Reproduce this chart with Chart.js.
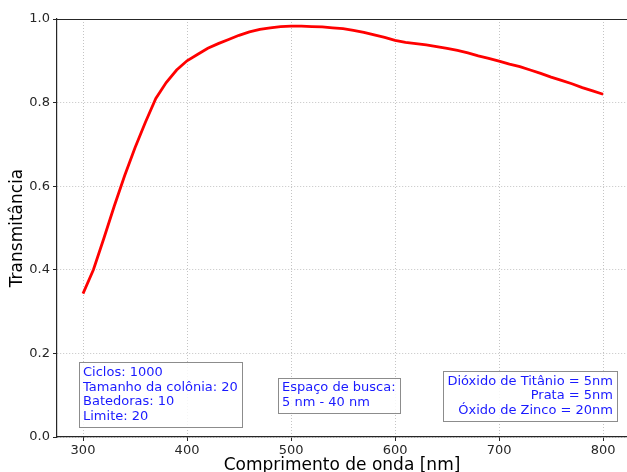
<!DOCTYPE html>
<html>
<head>
<meta charset="utf-8">
<script src="https://cdn.jsdelivr.net/npm/chart.js@4"></script>
<style>
  html, body { margin: 0; padding: 0; background: #fff; }
  #wrap { width: 627px; height: 472px; }
</style>
</head>
<body>
<div id="wrap"><canvas id="myChart" width="627" height="472"></canvas></div>
<script>
// wavelength (nm) and transmittance
const wavelengths = [300, 310, 320, 330, 340, 350, 360, 370, 380, 390,
  400, 410, 420, 430, 440, 450, 460, 470, 480, 490,
  500, 510, 520, 530, 540, 550, 560, 570, 580, 590,
  600, 610, 620, 630, 640, 650, 660, 670, 680, 690,
  700, 710, 720, 730, 740, 750, 760, 770, 780, 790, 800];
const transmittance = [0.343, 0.400, 0.475, 0.552, 0.625, 0.692, 0.753, 0.810, 0.848, 0.878,
  0.900, 0.915, 0.930, 0.941, 0.951, 0.961, 0.969, 0.975, 0.979, 0.982,
  0.983, 0.983, 0.982, 0.981, 0.979, 0.977, 0.973, 0.968, 0.962, 0.956,
  0.949, 0.944, 0.941, 0.938, 0.934, 0.930, 0.925, 0.919, 0.912, 0.906,
  0.899, 0.892, 0.886, 0.878, 0.870, 0.861, 0.853, 0.845, 0.836, 0.828, 0.820];
const xTicks = [300, 400, 500, 600, 700, 800];

const infoLeft = ['Ciclos: 1000', 'Tamanho da colônia: 20', 'Batedoras: 10', 'Limite: 20'];
const infoMid = ['Espaço de busca:', '5 nm - 40 nm'];
const infoRight = ['Dióxido de Titânio = 5nm', 'Prata = 5nm', 'Óxido de Zinco = 20nm'];

const points = wavelengths.map((w, i) => ({x: w, y: transmittance[i]}));

const FONT = 'DejaVu Sans';
const txtColor = '#262626';

// text boxes + top spine
const boxesPlugin = {
  id: 'boxes',
  afterDraw(chart) {
    const ctx = chart.ctx;
    const ca = chart.chartArea;
    ctx.save();
    ctx.strokeStyle = '#262626';
    ctx.lineWidth = 1;
    ctx.beginPath();
    ctx.moveTo(ca.left, ca.top + 0.5);
    ctx.lineTo(ca.right, ca.top + 0.5);
    ctx.stroke();

    ctx.font = '13px "' + FONT + '"';
    ctx.textBaseline = 'middle';
    const lh = 14.7, px = 4, py = 3;
    const boxes = [
      {lines: infoLeft, align: 'left', x: ca.left + 22, bottom: ca.bottom - 10},
      {lines: infoMid, align: 'left', x: ca.left + 221, bottom: ca.bottom - 24},
      {lines: infoRight, align: 'right', x: ca.left + 560, bottom: ca.bottom - 16}
    ];
    boxes.forEach(b => {
      const w = Math.max(...b.lines.map(l => ctx.measureText(l).width)) + 2 * px;
      const h = b.lines.length * lh + 2 * py;
      const left = b.align === 'left' ? b.x : b.x - w;
      const top = b.bottom - h;
      ctx.fillStyle = 'rgba(255,255,255,0.85)';
      ctx.fillRect(left, top, w, h);
      ctx.strokeStyle = '#8c8c8c';
      ctx.strokeRect(Math.round(left) + 0.5, Math.round(top) + 0.5, Math.round(w), Math.round(h));
      ctx.fillStyle = '#1a1aff';
      ctx.textAlign = b.align;
      b.lines.forEach((l, i) => {
        const tx = b.align === 'left' ? left + px : left + w - px;
        ctx.fillText(l, tx, top + py + lh * (i + 0.5));
      });
    });
    ctx.restore();
  }
};

const gridOpts = {
  color: '#c4c4c4', lineWidth: 1,
  tickColor: txtColor, tickBorderDash: [], tickLength: 4, tickWidth: 1
};
const borderOpts = {color: txtColor, width: 1.2, dash: [1, 2]};

const config = {
  type: 'line',
  data: {
    datasets: [{
      data: points,
      borderColor: 'rgb(255, 0, 0)',
      borderWidth: 2.8,
      pointRadius: 0,
      tension: 0,
      fill: false
    }]
  },
  options: {
    responsive: false,
    animation: false,
    layout: {padding: {top: 19, right: 0, left: 0, bottom: 0}},
    plugins: {legend: {display: false}, tooltip: {enabled: false}},
    scales: {
      x: {
        type: 'linear',
        min: 275,
        max: 823,
        afterBuildTicks: s => { s.ticks = xTicks.map(v => ({value: v})); },
        afterFit: s => { s.height = 35; },
        grid: gridOpts,
        border: borderOpts,
        ticks: {color: txtColor, font: {family: FONT, size: 13}, padding: 2, maxRotation: 0},
        title: {
          display: true, text: 'Comprimento de onda [nm]', color: '#000',
          font: {family: FONT, size: 17, lineHeight: 1}, padding: {top: 0, bottom: -2}
        }
      },
      y: {
        min: 0,
        max: 1,
        afterFit: s => { s.width = 57; },
        grid: gridOpts,
        border: borderOpts,
        ticks: {
          stepSize: 0.2, color: txtColor, font: {family: FONT, size: 13}, padding: 3,
          callback: v => v.toFixed(1)
        },
        title: {
          display: true, text: 'Transmitância', color: '#000',
          font: {family: FONT, size: 17, lineHeight: 1}, padding: {top: 9, bottom: 0}
        }
      }
    }
  },
  plugins: [boxesPlugin]
};

const myChart = new Chart(document.getElementById('myChart'), config);
</script>
</body>
</html>
